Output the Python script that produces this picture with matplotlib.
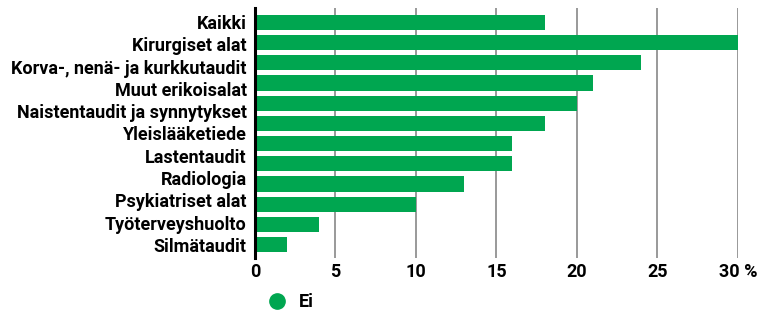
import matplotlib.pyplot as plt
import numpy as np

# bars (12 of them in the source image)
values = [18, 30, 24, 21, 20, 18, 16, 16, 13, 10, 4, 2]
# only 11 labels are shown, spread over the bar range
labels = ["Kaikki", "Kirurgiset alat", "Korva-, nenä- ja kurkkutaudit",
          "Muut erikoisalat", "Naistentaudit ja synnytykset", "Yleislääketiede",
          "Lastentaudit", "Radiologia", "Psykiatriset alat",
          "Työterveyshuolto", "Silmätaudit"]
xticks = [0, 5, 10, 15, 20, 25, 30]
xticklabels = ["0", "5", "10", "15", "20", "25", "30 %"]
series_name = "Ei"

green = "#00a650"
fam = ["Roboto", "DejaVu Sans"]

fig = plt.figure(figsize=(7.75, 3.10), dpi=100)
ax = fig.add_axes([0.329, 0.168, 0.623, 0.806])

pos = np.arange(len(values))
ax.barh(pos, values, height=0.75, color=green, zorder=3, label=series_name)

ax.set_xlim(0, 30)
ax.set_ylim(len(values) - 0.35, -0.7)

ax.set_yticks(np.linspace(0, len(values) - 1, len(labels)))
ax.set_yticklabels(labels, fontsize=13, fontweight="bold", family=fam)
ax.set_xticks(xticks)
ax.set_xticklabels(xticklabels, fontsize=13, fontweight="bold", family=fam)
ax.tick_params(axis="y", length=0, pad=6)
ax.tick_params(axis="x", length=0, pad=4)

ax.grid(axis="x", color="#888888", linewidth=1.2, zorder=0)
for s in ["top", "right", "bottom"]:
    ax.spines[s].set_visible(False)
ax.spines["left"].set_linewidth(2.2)
ax.spines["left"].set_zorder(4)

h = plt.Line2D([], [], marker="o", linestyle="", color=green, markersize=11)
fig.legend([h], [series_name], loc="center left", bbox_to_anchor=(0.325, 0.025),
           frameon=False, handletextpad=0.2, borderaxespad=0,
           prop={"family": fam, "weight": "bold", "size": 13})

fig.savefig("out.png", dpi=100)
